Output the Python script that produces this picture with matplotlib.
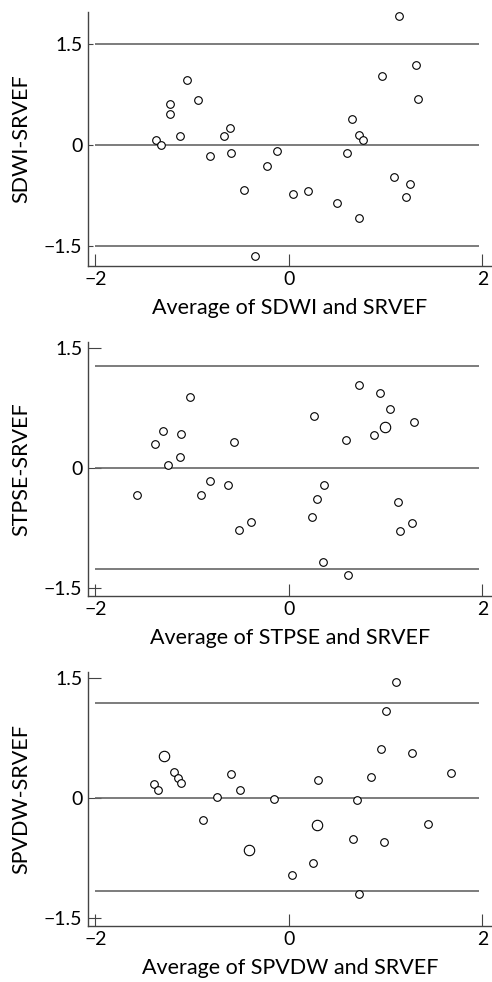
import matplotlib
matplotlib.use("Agg")
import matplotlib.pyplot as plt

plt.rcParams['font.family'] = ['Lato', 'DejaVu Sans']

# panel 1: SDWI vs SRVEF
sdwi_avg = [1.136, 1.316, 0.967, 1.330, -1.054, -1.230, -1.230, -0.940, -1.371, -1.320,
            -1.126, -0.819, -0.674, -0.608, -0.594, -0.121, -0.228, -0.466, 0.045, 0.200,
            0.501, 0.729, 0.601, 0.649, 0.729, 0.770, 1.092, 1.250, 1.206, -0.345]
sdwi_diff = [1.916, 1.188, 1.020, 0.678, 0.965, 0.609, 0.460, 0.658, 0.074, -0.005,
             0.134, -0.168, 0.134, 0.252, -0.129, -0.099, -0.317, -0.668, -0.728, -0.683,
             -0.871, -1.089, -0.124, 0.381, 0.149, 0.069, -0.475, -0.579, -0.782, -1.649]
sdwi_big = []
sdwi_limits = [1.5, 0, -1.5]

# panel 2: STPSE vs SRVEF
stpse_avg = [0.725, 0.940, 1.047, 0.256, 1.295, 0.884, 0.587, -1.019, -1.302, -1.116,
             -1.385, -0.566, -1.130, -1.247, -1.565, -0.908, -0.812, -0.629, -0.515, -0.390,
             0.235, 0.287, 0.366, 0.352, 0.608, 1.133, 1.154, 1.271]
stpse_diff = [1.038, 0.938, 0.729, 0.646, 0.571, 0.408, 0.350, 0.883, 0.463, 0.425,
              0.296, 0.321, 0.129, 0.029, -0.342, -0.342, -0.171, -0.213, -0.779, -0.679,
              -0.621, -0.392, -0.221, -1.179, -1.346, -0.425, -0.796, -0.696]
stpse_big = [(0.998, 0.504)]
stpse_limits = [1.27, 0, -1.27]

# panel 3: SPVDW vs SRVEF
spvdw_avg = [1.105, 1.002, 0.957, 1.271, 1.679, 0.850, 0.301, -1.185, -1.150, -1.116,
             -1.392, -1.351, -0.601, -0.504, -0.739, -0.155, -0.888, 0.035, 0.249, 0.708,
             0.660, 0.981, 1.434, 0.725]
spvdw_diff = [1.442, 1.088, 0.604, 0.558, 0.313, 0.263, 0.217, 0.321, 0.246, 0.183,
              0.171, 0.100, 0.296, 0.100, 0.008, -0.017, -0.283, -0.971, -0.821, -0.033,
              -0.517, -0.558, -0.325, -1.200]
spvdw_big = [(-1.288, 0.517), (-0.408, -0.658), (0.290, -0.342)]
spvdw_limits = [1.18, 0, -1.16]

panels = [
    ("SDWI", sdwi_avg, sdwi_diff, sdwi_big, sdwi_limits, (-1.797, 1.975), 716.3, 3.6),
    ("STPSE", stpse_avg, stpse_diff, stpse_big, stpse_limits, (-1.6, 1.575), 386.3, 9.4),
    ("SPVDW", spvdw_avg, spvdw_diff, spvdw_big, spvdw_limits, (-1.6, 1.575), 56.3, 9.4),
]

W, H = 492, 982
fig = plt.figure(figsize=(W / 100, H / 100), dpi=100)

for name, avg, diff, big, limits, ylim, bottom, ytick_len in panels:
    ax = fig.add_axes([88 / W, bottom / H, 404 / W, 254 / H])
    ax.hlines(limits, -2, 1.965, colors='#666666', linewidth=1.2)
    ax.plot(avg, diff, 'o', mfc='white', mec='black', mew=0.8, ms=5.5, linestyle='none')
    if big:
        bx, by = zip(*big)
        ax.plot(bx, by, 'o', mfc='white', mec='black', mew=0.8, ms=7.5, linestyle='none')
    ax.set_xlim(-2.076, 2.10)
    ax.set_ylim(*ylim)
    ax.set_xticks([-2, 0, 2])
    ax.set_xticklabels(['\u22122', '0', '2'])
    ax.set_yticks([1.5, 0, -1.5])
    ax.set_yticklabels(['1.5', '0', '\u22121.5'])
    ax.spines['top'].set_visible(False)
    ax.spines['right'].set_visible(False)
    for s in ('left', 'bottom'):
        ax.spines[s].set_color('#444444')
        ax.spines[s].set_linewidth(1.0)
    ax.tick_params(axis='x', direction='in', length=8.6, width=0.8, color='#444444',
                   labelsize=14, pad=4)
    ax.tick_params(axis='y', direction='in', length=ytick_len, width=0.8, color='#444444',
                   labelsize=14, pad=4)
    ax.set_xlabel(f"Average of {name} and SRVEF", fontsize=15.5, labelpad=7)
    ax.set_ylabel(f"{name}-SRVEF", fontsize=15.5, labelpad=9)

fig.savefig("out.png", dpi=100)
